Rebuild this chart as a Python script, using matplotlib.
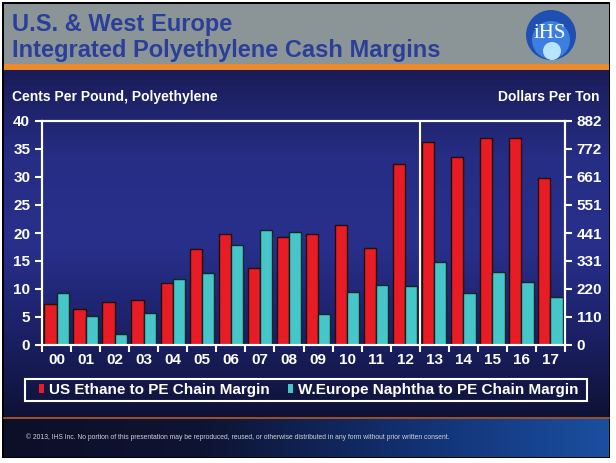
import numpy as np
import matplotlib.pyplot as plt
from matplotlib.patches import Rectangle, Circle, Patch
from matplotlib.colors import LinearSegmentedColormap

plt.rcParams['font.family'] = ['Liberation Sans', 'DejaVu Sans']

years = ['00', '01', '02', '03', '04', '05', '06', '07', '08',
         '09', '10', '11', '12', '13', '14', '15', '16', '17']
us_ethane = [7.4, 6.4, 7.7, 8.1, 11.0, 17.2, 19.9, 13.7, 19.3,
             19.9, 21.5, 17.4, 32.4, 36.3, 33.5, 36.9, 36.9, 29.9]
weu_naphtha = [9.2, 5.1, 2.0, 5.8, 11.8, 12.8, 17.8, 20.6, 20.2,
               5.5, 9.4, 10.8, 10.6, 14.9, 9.2, 13.1, 11.2, 8.6]
left_ticks = [0, 5, 10, 15, 20, 25, 30, 35, 40]
right_labels = ['0', '110', '220', '331', '441', '551', '661', '772', '882']

W, H = 616, 463
fig = plt.figure(figsize=(W / 100, H / 100), dpi=100)
fig.patch.set_facecolor('white')

# background slide
bg = fig.add_axes([0, 0, 1, 1])
bg.set_xlim(0, W)
bg.set_ylim(H, 0)
bg.axis('off')
bg.add_patch(Rectangle((2, 2), 608, 456, facecolor='black', edgecolor='none'))
bg.add_patch(Rectangle((4, 4), 605, 61, facecolor='#8b9598', edgecolor='none'))
bg.add_patch(Rectangle((4, 64), 605, 6, facecolor='#ec8a2c', edgecolor='none'))
navy = LinearSegmentedColormap.from_list('navy', ['#1a1c58', '#262d84', '#28308c', '#1c2168', '#0e1236'])
grad = np.linspace(0, 1, 256).reshape(-1, 1)
bg.imshow(grad, cmap=navy, extent=(4, 609, 417, 70), aspect='auto', zorder=1)
foot = LinearSegmentedColormap.from_list('foot', ['#0c0f28', '#0e1433', '#123070', '#1a4fa0'])
bg.imshow(np.linspace(0, 1, 256).reshape(1, -1), cmap=foot, extent=(4, 609, 457, 419),
          aspect='auto', zorder=1)
bg.plot([4, 609], [418, 418], color='#b8612e', lw=1.2, zorder=2)
bg.text(12, 31, 'U.S. & West Europe', color='#2b3f98', fontsize=17,
        fontweight='bold', va='baseline', zorder=3)
bg.text(12, 57, 'Integrated Polyethylene Cash Margins', color='#2b3f98', fontsize=17,
        fontweight='bold', va='baseline', zorder=3)

# IHS logo
bg.add_patch(Circle((551, 35), 25, facecolor='#1f4fb0', edgecolor='none', zorder=3))
bg.add_patch(Circle((551, 40), 19, facecolor='#3d7fe0', edgecolor='none', zorder=3))
bg.add_patch(Circle((552, 51), 9, facecolor='#b8e4ff', edgecolor='none', zorder=3))
bg.text(550, 34, 'iHS', color='white', fontsize=15, family='Liberation Serif',
        ha='center', va='center', zorder=4)

bg.text(12, 97, 'Cents Per Pound, Polyethylene', color='white', fontsize=10,
        fontweight='bold', va='center', zorder=3)
bg.text(599, 97, 'Dollars Per Ton', color='white', fontsize=10,
        fontweight='bold', va='center', ha='right', zorder=3)
bg.text(26, 437, '\u00a9 2013, IHS Inc. No portion of this presentation may be reproduced, '
        'reused, or otherwise distributed in any form without prior written consent.',
        color='#d0d0d8', fontsize=4.9, va='center', zorder=3)

# legend box
bg.add_patch(Rectangle((25, 379), 562, 22, facecolor='none', edgecolor='white',
                       linewidth=1.5, zorder=3))

# chart
ax = fig.add_axes([42 / W, 1 - 345 / H, (565 - 42) / W, (345 - 121) / H])
ax.patch.set_alpha(0)
x = np.arange(len(years))
bw = 0.42
ax.bar(x - bw / 2, us_ethane, bw, color='#e81c24', edgecolor='#2a0808', linewidth=1.0,
       label='US Ethane to PE Chain Margin')
ax.bar(x + bw / 2, weu_naphtha, bw, color='#46c6c8', edgecolor='#082828', linewidth=1.0,
       label='W.Europe Naphtha to PE Chain Margin')
ax.axvline(12.5, color='white', lw=1.5)
ax.set_xlim(-0.5, len(years) - 0.5)
ax.set_ylim(0, 40)
ax.set_yticks(left_ticks)
ax.set_xticks(x)
ax.set_xticklabels(years)
ax.set_xticks(np.arange(-0.5, len(years)), minor=True)
ax.tick_params(axis='x', which='major', length=0, pad=6, colors='white', labelsize=11)
ax.tick_params(axis='x', which='minor', length=5, width=1.5, color='white')
ax.tick_params(axis='y', length=5, width=1.5, color='white', labelcolor='white', labelsize=11)
for lab in ax.get_xticklabels() + ax.get_yticklabels():
    lab.set_fontweight('bold')
for s in ax.spines.values():
    s.set_color('white')
    s.set_linewidth(1.5)

ax2 = ax.twinx()
ax2.set_ylim(0, 40)
ax2.set_yticks(left_ticks)
ax2.set_yticklabels(right_labels)
ax2.tick_params(axis='y', length=5, width=1.5, color='white', labelcolor='white', labelsize=11)
for lab in ax2.get_yticklabels():
    lab.set_fontweight('bold')
for s in ax2.spines.values():
    s.set_color('white')
    s.set_linewidth(1.5)

handles = [Patch(facecolor='#e81c24', edgecolor='none'), Patch(facecolor='#46c6c8', edgecolor='none')]
leg = fig.legend(handles, ['US Ethane to PE Chain Margin', 'W.Europe Naphtha to PE Chain Margin'],
                 loc='center', bbox_to_anchor=(308.5 / W, 1 - 390 / H),
                 ncol=2, frameon=False, handlelength=0.33, handleheight=0.55,
                 handletextpad=0.33, columnspacing=1.2, borderpad=0, borderaxespad=0,
                 prop={'weight': 'bold', 'size': 11})
for t in leg.get_texts():
    t.set_color('white')

fig.savefig('out.png', dpi=100)
